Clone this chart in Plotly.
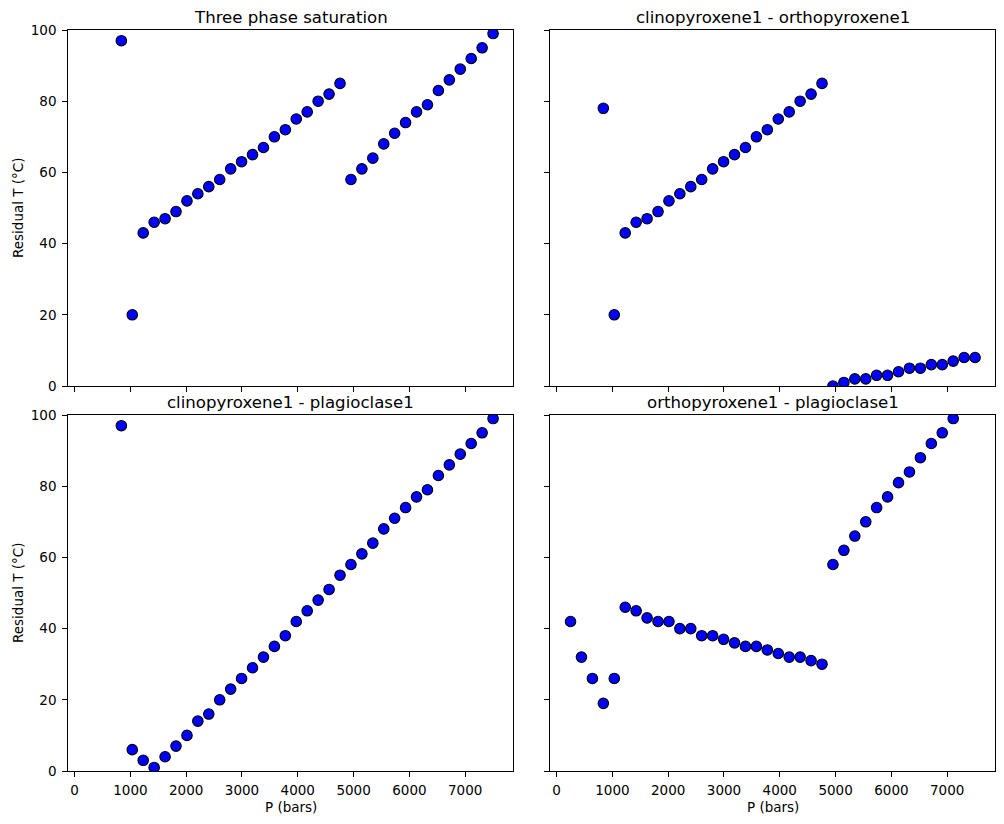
import plotly.graph_objects as go

# Pressure steps (bars)
pressure = [250, 446, 642, 838, 1034, 1230, 1426, 1622, 1818, 2014, 2209, 2405, 2601,
            2797, 2993, 3189, 3385, 3581, 3777, 3973, 4169, 4365, 4561, 4757, 4953,
            5149, 5345, 5541, 5736, 5932, 6128, 6324, 6520, 6716, 6912, 7108, 7304, 7500]

# Residual temperatures (°C); None = off the plotted range
three_phase = [None, None, None, 97, 20, 43, 46, 47, 49, 52, 54, 56, 58, 61, 63, 65, 67, 70, 72,
               75, 77, 80, 82, 85, 58, 61, 64, 68, 71, 74, 77, 79, 83, 86, 89, 92, 95, 99]
cpx_opx = [None, None, None, 78, 20, 43, 46, 47, 49, 52, 54, 56, 58, 61, 63, 65, 67, 70, 72,
           75, 77, 80, 82, 85, 0, 1, 2, 2, 3, 3, 4, 5, 5, 6, 6, 7, 8, 8]
cpx_plag = [None, None, None, 97, 6, 3, 1, 4, 7, 10, 14, 16, 20, 23, 26, 29, 32, 35, 38,
            42, 45, 48, 51, 55, 58, 61, 64, 68, 71, 74, 77, 79, 83, 86, 89, 92, 95, 99]
opx_plag = [42, 32, 26, 19, 26, 46, 45, 43, 42, 42, 40, 40, 38, 38, 37, 36, 35, 35, 34, 33,
            32, 32, 31, 30, 58, 62, 66, 70, 74, 77, 81, 84, 88, 92, 95, 99, None, None]

titles = ["Three phase saturation", "clinopyroxene1 - orthopyroxene1",
          "clinopyroxene1 - plagioclase1", "orthopyroxene1 - plagioclase1"]
series = [three_phase, cpx_opx, cpx_plag, opx_plag]
x_ticks = [0, 1000, 2000, 3000, 4000, 5000, 6000, 7000]
y_ticks = [0, 20, 40, 60, 80, 100]

W, H = 1004, 824
FONT = "DejaVu Sans"
# axes boxes in pixels: (left, right, top, bottom)
boxes = [(68.3, 513.3, 30, 386), (550.3, 995.3, 30, 386),
         (68.3, 513.3, 415, 771), (550.3, 995.3, 415, 771)]

fig = go.Figure()
annotations = []
for i, (ys, title, box) in enumerate(zip(series, titles, boxes)):
    n = "" if i == 0 else str(i + 1)
    fig.add_trace(go.Scatter(
        x=pressure, y=ys, mode="markers", xaxis="x" + n, yaxis="y" + n,
        marker=dict(size=10.5, color="#0000ff", line=dict(color="black", width=1.1)),
        showlegend=False, hoverinfo="x+y"))
    l, r, t, b = box
    dx = [l / W, r / W]
    dy = [1 - b / H, 1 - t / H]
    bottom_row = i >= 2
    left_col = i % 2 == 0
    common = dict(showline=True, mirror=True, linecolor="black", linewidth=1.1,
                  ticks="outside", ticklen=5, tickwidth=1.1, tickcolor="black",
                  showgrid=False, zeroline=False, automargin=False,
                  tickfont=dict(family=FONT, size=13.5, color="black"))
    fig.layout["xaxis" + n] = dict(
        domain=dx, anchor="y" + n, range=[-112.5, 7862.5], tickvals=x_ticks,
        showticklabels=bottom_row, ticklabelstandoff=2, **common)
    fig.layout["yaxis" + n] = dict(
        domain=dy, anchor="x" + n, range=[0, 100], tickvals=y_ticks,
        showticklabels=left_col, ticklabelstandoff=3, **common)
    annotations.append(dict(
        text=title, x=(l + r) / 2 / W, y=1 - t / H, xref="paper", yref="paper",
        xanchor="center", yanchor="bottom", yshift=1, showarrow=False,
        font=dict(family=FONT, size=16.6, color="black")))
    if bottom_row:
        annotations.append(dict(
            text="P (bars)", x=(l + r) / 2 / W, y=1 - 806.5 / H, xref="paper", yref="paper",
            xanchor="center", yanchor="middle", showarrow=False,
            font=dict(family=FONT, size=13.5, color="black")))
    if left_col:
        annotations.append(dict(
            text="Residual T (°C)", x=18 / W, y=1 - (t + b) / 2 / H, xref="paper", yref="paper",
            xanchor="center", yanchor="middle", textangle=-90, showarrow=False,
            font=dict(family=FONT, size=13.5, color="black")))

fig.update_layout(
    width=W, height=H, margin=dict(l=0, r=0, t=0, b=0),
    paper_bgcolor="white", plot_bgcolor="white",
    annotations=annotations, font=dict(family=FONT, color="black"))

fig.write_html("out.html")
